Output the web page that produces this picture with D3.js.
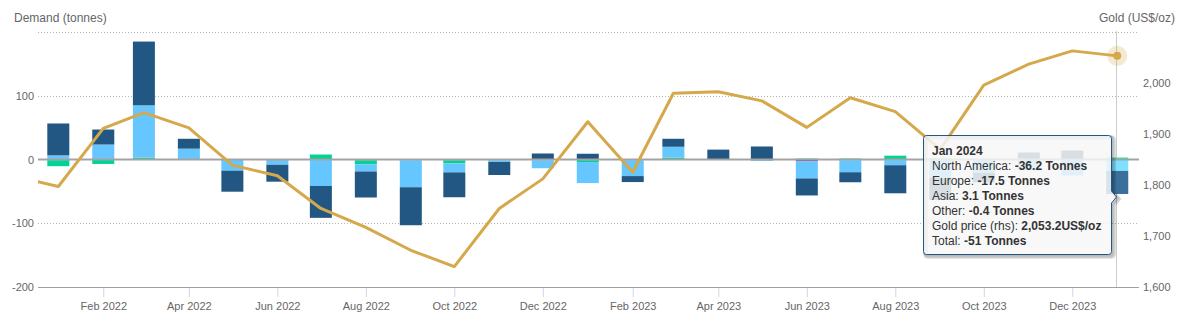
<!DOCTYPE html>
<html><head><meta charset="utf-8">
<script src="https://cdn.jsdelivr.net/npm/d3@7"></script>
<style>
body{margin:0;background:#fff}
svg{display:block;font-family:"Liberation Sans",Arial,Helvetica,sans-serif}
</style>
</head><body>
<svg id="chart" width="1199" height="325"></svg>
<script>
// ---------------- DATA ----------------
const months = ["2022-01","2022-02","2022-03","2022-04","2022-05","2022-06","2022-07","2022-08","2022-09","2022-10","2022-11","2022-12",
  "2023-01","2023-02","2023-03","2023-04","2023-05","2023-06","2023-07","2023-08","2023-09","2023-10","2023-11","2023-12","2024-01"];
const northAmerica = [50, 23.5, 100, 15.5, -33, -26.5, -50, -40.8, -59.6, -39, -20.5, 9.4,
  9, -9.4, 12.5, 15.5, 20.4, -26.7, -15.7, -44, -35, -15, 11, 14, -36.2];
const europe = [6.5, 23.5, 82, 17, -17, -6.5, -41.5, -11, -42.5, -14, -2.5, -12.5,
  -33, -25, 17, 0, -1.5, -26.7, -19, -8, -28, -20, -15, -24, -17.5];
const asia = [-9.5, -7, 3, 0, -0.3, -0.3, 7.8, -6.3, -1, -4.7, -1, -1.2,
  -3, 0, 3, 0, 0, 1.5, 1.5, 6, 2, -1, -2, -1, 3.1];
const other = [-1, 0, -0.5, -0.6, -0.2, -1.5, 0, -1.5, 0, -1.5, -0.3, 0,
  -1, -1, 0, -0.8, -0.8, -3, -1, -1, -0.5, 0, 0, 0, -0.4];
const goldMonths = ["2021-12", ...months];
const goldPrices = [1818, 1797, 1911, 1942, 1912, 1839, 1818, 1754, 1717, 1672, 1640, 1754, 1812,
  1924, 1825, 1980, 1983, 1965, 1913, 1971, 1944, 1870, 1996, 2037, 2063, 2053.2];
const leftTicks = [-200, -100, 0, 100, 200];
const leftTickLabels = ["-200", "-100", "0", "100", ""];
const rightTicks = [1600, 1700, 1800, 1900, 2000];
const xTickMonths = ["2022-02","2022-04","2022-06","2022-08","2022-10","2022-12","2023-02","2023-04","2023-06","2023-08","2023-10","2023-12"];
const seriesNames = ["North America", "Europe", "Asia", "Other"];
const hoverIndex = months.length - 1;

// ---------------- STYLE ----------------
const seriesColors = {"North America":"#215782","Europe":"#66c6ff","Asia":"#00d396","Other":"#7b4c9a"};
const hoverColors = {"North America":"#3a709b","Europe":"#7fdfff","Asia":"#19ecaf","Other":"#9465b3"};
const goldColor = "#d5a84b";
const plot = {left: 38, right: 1139, top: 32, bottom: 287};

const locale = d3.formatLocale({decimal: ".", thousands: ",", grouping: [3], currency: ["$", ""], minus: "-"});
const parse = d3.timeParse("%Y-%m");
const svg = d3.select("#chart");

const x = d3.scaleTime()
  .domain([new Date(2021, 11, 18), new Date(2024, 0, 16)])
  .range([plot.left, plot.right]);
const yL = d3.scaleLinear().domain([-200, 200]).range([plot.bottom, plot.top]);
const yR = d3.scaleLinear().domain([1600, 2100]).range([plot.bottom, plot.top]);

svg.append("defs").append("clipPath").attr("id", "clip")
  .append("rect").attr("x", plot.left).attr("y", plot.top - 10)
  .attr("width", plot.right - plot.left).attr("height", plot.bottom - plot.top + 10);

// gridlines
const grid = svg.append("g");
leftTicks.filter(t => t !== 0 && t !== -200).forEach(t => {
  grid.append("line").attr("x1", plot.left).attr("x2", plot.right)
    .attr("y1", Math.round(yL(t)) + 0.5).attr("y2", Math.round(yL(t)) + 0.5)
    .attr("stroke", "#b5b5b5").attr("stroke-width", 1).attr("stroke-dasharray", "1,2");
});

// left axis labels
const leftAxis = d3.axisLeft(yL).tickValues(leftTicks)
  .tickFormat((d, i) => leftTickLabels[i]).tickSize(0).tickPadding(0);
svg.append("g").attr("transform", `translate(34,0)`).call(leftAxis)
  .call(g => g.select(".domain").remove())
  .selectAll("text").attr("fill", "#666").attr("font-size", 11)
  .attr("font-family", '"Liberation Sans",Arial,sans-serif');

// right axis labels
const rightAxis = d3.axisRight(yR).tickValues(rightTicks)
  .tickFormat(locale.format(",")).tickSize(0).tickPadding(0);
svg.append("g").attr("transform", `translate(1143,0)`).call(rightAxis)
  .call(g => g.select(".domain").remove())
  .selectAll("text").attr("fill", "#666").attr("font-size", 11)
  .attr("font-family", '"Liberation Sans",Arial,sans-serif');

// axis titles
svg.append("text").attr("x", 14).attr("y", 21.5).attr("font-size", 12).attr("fill", "#666").text("Demand (tonnes)");
svg.append("text").attr("x", 1175).attr("y", 21.5).attr("font-size", 12).attr("fill", "#666")
  .attr("text-anchor", "end").text("Gold (US$/oz)");

// x axis
const xAxis = d3.axisBottom(x).tickValues(xTickMonths.map(parse))
  .tickFormat(d3.timeFormat("%b %Y")).tickSize(10).tickPadding(5);
const xg = svg.append("g").attr("transform", `translate(0,${plot.bottom})`).call(xAxis);
xg.select(".domain").remove();
xg.selectAll(".tick line").attr("stroke", "#ccd6eb");
xg.selectAll("text").attr("fill", "#666").attr("font-size", 11)
  .attr("font-family", '"Liberation Sans",Arial,sans-serif');
svg.append("line").attr("x1", plot.left).attr("x2", plot.right)
  .attr("y1", plot.bottom + 0.5).attr("y2", plot.bottom + 0.5)
  .attr("stroke", "#a0a0a0").attr("stroke-width", 1);

// crosshair
const hoverDate = parse(months[hoverIndex]);
svg.append("line").attr("x1", Math.round(x(hoverDate)) - 0.5).attr("x2", Math.round(x(hoverDate)) - 0.5)
  .attr("y1", plot.top - 1).attr("y2", plot.bottom).attr("stroke", "#cccccc").attr("stroke-width", 1);

// stacked bars
const rows = months.map((m, i) => ({
  date: parse(m), "North America": northAmerica[i], "Europe": europe[i], "Asia": asia[i], "Other": other[i]
}));
const stack = d3.stack().keys(["Other", "Asia", "Europe", "North America"])
  .order(d3.stackOrderNone).offset(d3.stackOffsetDiverging);
const layers = stack(rows);
const barW = 22;
const bars = svg.append("g").attr("clip-path", "url(#clip)");
layers.forEach(layer => {
  bars.selectAll(null).data(layer).join("rect")
    .attr("x", d => x(d.data.date) - barW / 2)
    .attr("y", d => yL(Math.max(d[0], d[1])))
    .attr("width", barW)
    .attr("height", d => Math.abs(yL(d[0]) - yL(d[1])))
    .attr("fill", (d, i) => i === hoverIndex ? hoverColors[layer.key] : seriesColors[layer.key]);
});

// zero line
svg.append("line").attr("x1", plot.left).attr("x2", plot.right)
  .attr("y1", yL(0)).attr("y2", yL(0)).attr("stroke", "#a3a3a3").attr("stroke-width", 2);

// gold line
const goldData = goldMonths.map((m, i) => ({date: parse(m), v: goldPrices[i]}));
const line = d3.line().x(d => x(d.date)).y(d => yR(d.v));
svg.append("path").datum(goldData).attr("clip-path", "url(#clip)")
  .attr("d", line).attr("fill", "none").attr("stroke", goldColor)
  .attr("stroke-width", 3).attr("stroke-linejoin", "round");

// hover marker
const hp = goldData[goldData.length - 1];
svg.append("circle").attr("cx", x(hp.date)).attr("cy", yR(hp.v)).attr("r", 10)
  .attr("fill", goldColor).attr("fill-opacity", 0.25);
svg.append("circle").attr("cx", x(hp.date)).attr("cy", yR(hp.v)).attr("r", 4)
  .attr("fill", goldColor);

// tooltip
const tt = {x: 923.5, y: 135.5, w: 188, h: 119};
const tg = svg.append("g");
const boxPath = (dx, dy) => {
  const l = tt.x + dx, t = tt.y + dy, r = tt.x + tt.w + dx, b = tt.y + tt.h + dy, rr = 3;
  const ay = 197 + dy;
  return `M${l + rr},${t} L${r - rr},${t} Q${r},${t} ${r},${t + rr} L${r},${ay - 6} L${r + 5},${ay} L${r},${ay + 6} L${r},${b - rr} Q${r},${b} ${r - rr},${b} L${l + rr},${b} Q${l},${b} ${l},${b - rr} L${l},${t + rr} Q${l},${t} ${l + rr},${t} Z`;
};
[3, 2, 1].forEach(o => tg.append("path").attr("d", boxPath(o * 0.7, o * 0.7))
  .attr("fill", "none").attr("stroke", "#000").attr("stroke-opacity", 0.05 * o).attr("stroke-width", o * 1.5));
tg.append("path").attr("d", boxPath(0, 0)).attr("fill", "rgba(247,247,247,0.85)")
  .attr("stroke", seriesColors["North America"]).attr("stroke-width", 1);

const fmt1 = locale.format(",.1f");
const fmt0 = locale.format(".0f");
const total = northAmerica[hoverIndex] + europe[hoverIndex] + asia[hoverIndex] + other[hoverIndex];
const lines = [
  ["North America: ", fmt1(northAmerica[hoverIndex]) + " Tonnes"],
  ["Europe: ", fmt1(europe[hoverIndex]) + " Tonnes"],
  ["Asia: ", fmt1(asia[hoverIndex]) + " Tonnes"],
  ["Other: ", fmt1(other[hoverIndex]) + " Tonnes"],
  ["Gold price (rhs): ", fmt1(goldPrices[goldPrices.length - 1]) + "US$/oz"],
  ["Total: ", fmt0(total) + " Tonnes"]
];
tg.append("text").attr("x", 932).attr("y", 154.5).attr("font-size", 12).attr("font-weight", "bold")
  .attr("fill", "#333").text(d3.timeFormat("%b %Y")(hoverDate));
lines.forEach((ln, i) => {
  const t = tg.append("text").attr("x", 932).attr("y", 169.5 + i * 15).attr("font-size", 12).attr("fill", "#333");
  t.append("tspan").text(ln[0]);
  t.append("tspan").attr("font-weight", "bold").text(ln[1]);
});
</script>
</body></html>
